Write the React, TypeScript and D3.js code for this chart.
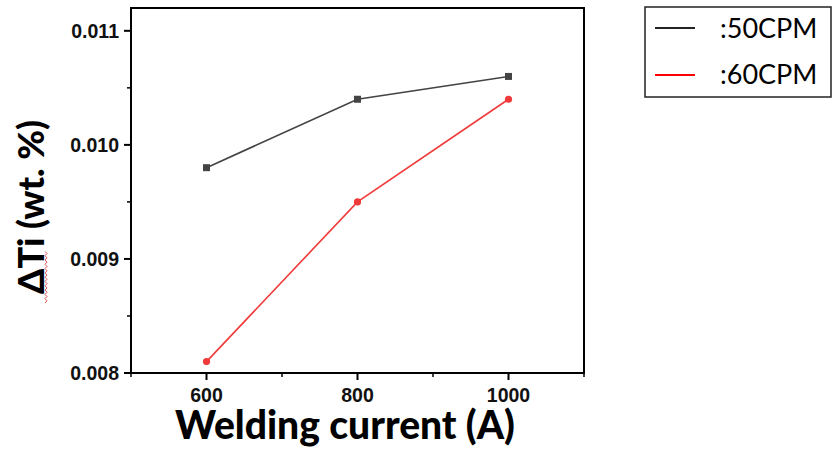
import React from "react";
import * as d3 from "d3";

const currents = [600, 800, 1000];
const cpm50 = [0.0098, 0.0104, 0.0106];
const cpm60 = [0.0081, 0.0095, 0.0104];
const yTicks = [0.008, 0.009, 0.01, 0.011];
const yMinor = [0.0085, 0.0095, 0.0105];
const xTicks = [600, 800, 1000];
const xMinor = [500, 700, 900, 1100];
const seriesNames = [":50CPM", ":60CPM"];

export default function App() {
  const W = 832, H = 452;
  const left = 131, right = 584, top = 8, bottom = 373;
  const x = d3.scaleLinear().domain([500, 1100]).range([left, right]);
  const y = d3.scaleLinear().domain([0.008, 0.0112]).range([bottom, top]);
  const line = d3.line<number>().x((_, i) => x(currents[i])).y((d) => y(d));
  const black = "#444444";
  const red = "#f03a3a";
  const tickFont = "'Liberation Sans', Arial, Helvetica, sans-serif";
  const calibri = "Lato, 'Open Sans', sans-serif";

  const wave: [number, number][] = [];
  for (let i = 0; i <= 24; i++) wave.push([45 + (i % 2) * 2, 303 - i * 2.15]);
  const wavePath = d3.line()(wave) || "";

  return (
    <svg width={W} height={H} style={{ position: "absolute", left: 0, top: 0, background: "#fff" }}>
      <rect x={0} y={0} width={W} height={H} fill="#fff" />
      <path d={line(cpm50) || ""} fill="none" stroke={black} strokeWidth={1.6} />
      {cpm50.map((v, i) => (
        <rect key={"s" + i} x={x(currents[i]) - 3.5} y={y(v) - 3.5} width={7} height={7} fill={black} />
      ))}
      <path d={line(cpm60) || ""} fill="none" stroke={red} strokeWidth={1.6} />
      {cpm60.map((v, i) => (
        <circle key={"c" + i} cx={x(currents[i])} cy={y(v)} r={3.6} fill={red} />
      ))}
      <rect x={left} y={top} width={right - left} height={bottom - top} fill="none" stroke="#000" strokeWidth={2} />
      {yTicks.map((t) => (
        <g key={"yt" + t}>
          <line x1={left - 7} x2={left} y1={y(t)} y2={y(t)} stroke="#000" strokeWidth={2} />
          <text x={left - 12} y={y(t)} dy="0.36em" textAnchor="end" fontFamily={tickFont} fontWeight="bold" fontSize={19.5} fill="#111">
            {d3.format(".3f")(t)}
          </text>
        </g>
      ))}
      {yMinor.map((t) => (
        <line key={"ym" + t} x1={left - 4} x2={left} y1={y(t)} y2={y(t)} stroke="#000" strokeWidth={1.5} />
      ))}
      {xTicks.map((t) => (
        <g key={"xt" + t}>
          <line x1={x(t)} x2={x(t)} y1={bottom} y2={bottom + 7} stroke="#000" strokeWidth={2} />
          <text x={x(t)} y={bottom + 29} textAnchor="middle" fontFamily={tickFont} fontWeight="bold" fontSize={19.5} fill="#111">
            {t}
          </text>
        </g>
      ))}
      {xMinor.map((t) => (
        <line key={"xm" + t} x1={x(t)} x2={x(t)} y1={bottom} y2={bottom + 4} stroke="#000" strokeWidth={1.5} />
      ))}
      <text x={345} y={439} textAnchor="middle" fontFamily={calibri} fontWeight="900" fontSize={39}>
        Welding current (A)
      </text>
      <text
        transform={`translate(44,207) rotate(-90)`}
        textAnchor="middle"
        fontFamily={calibri}
        fontWeight="900"
        fontSize={36}
      >
        ΔTi (wt. %)
      </text>
      <path d={wavePath} fill="none" stroke="#e05050" strokeWidth={1} />
      <rect x={645} y={7} width={186} height={90} fill="#fff" stroke="#222" strokeWidth={1.5} />
      {seriesNames.map((n, i) => (
        <g key={n}>
          <line x1={655} x2={695} y1={28 + i * 47} y2={28 + i * 47} stroke={i === 0 ? "#222" : "#ff0000"} strokeWidth={2} />
          <text x={720} y={28 + i * 46} dy="0.36em" fontFamily={calibri} fontSize={27} fill="#000">
            {n}
          </text>
        </g>
      ))}
    </svg>
  );
}
